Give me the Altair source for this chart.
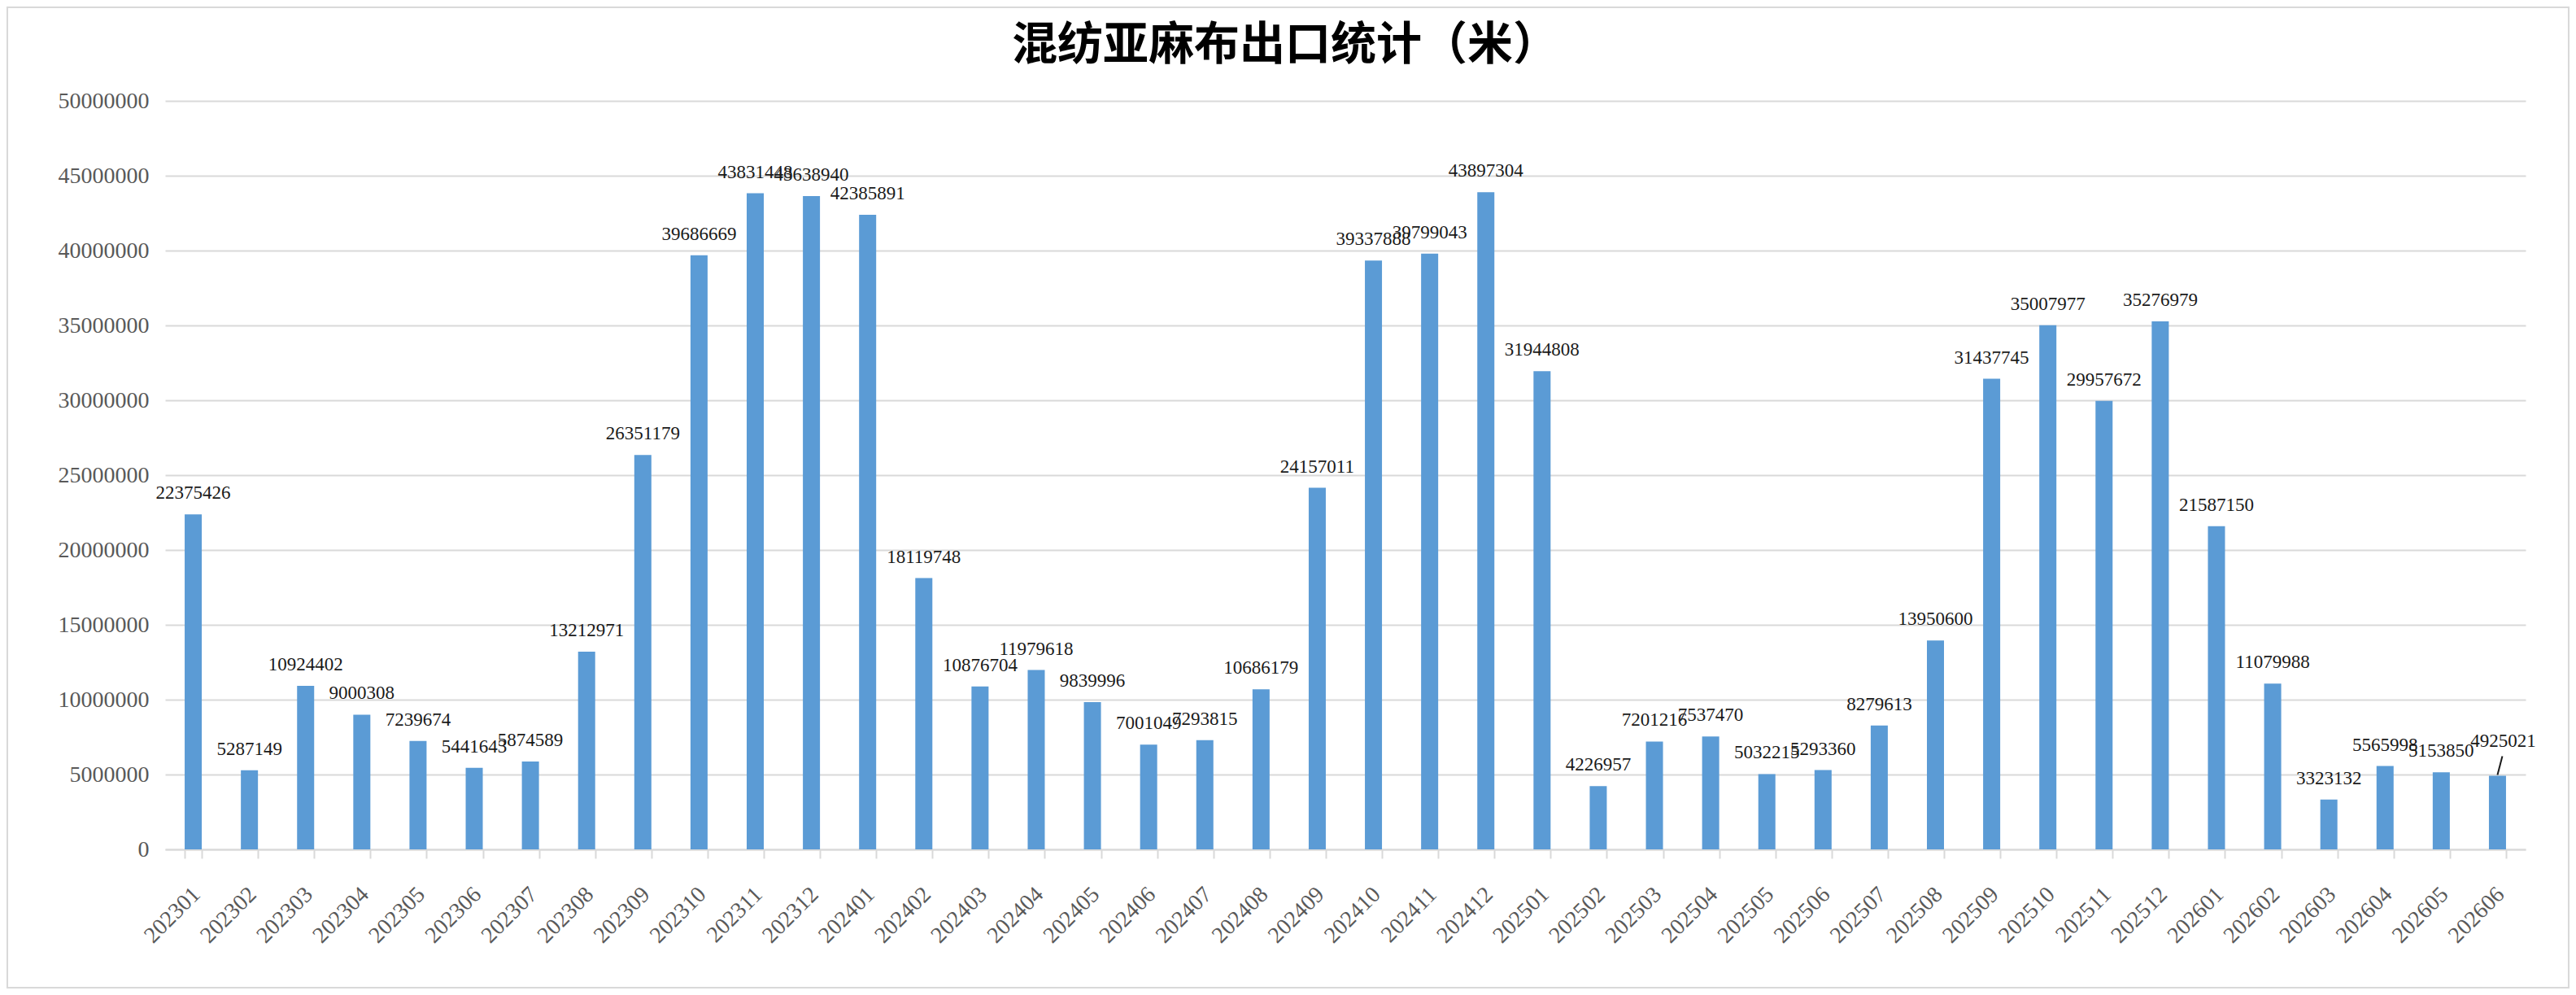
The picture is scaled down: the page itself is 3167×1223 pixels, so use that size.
import altair as alt
import pandas as pd

months = [
    "202301", "202302", "202303", "202304", "202305", "202306",
    "202307", "202308", "202309", "202310", "202311", "202312",
    "202401", "202402", "202403", "202404", "202405", "202406",
    "202407", "202408", "202409", "202410", "202411", "202412",
    "202501", "202502", "202503", "202504", "202505", "202506",
    "202507", "202508", "202509", "202510", "202511", "202512",
    "202601", "202602", "202603", "202604", "202605", "202606",
]
values = [
    22375426, 5287149, 10924402, 9000308, 7239674, 5441643,
    5874589, 13212971, 26351179, 39686669, 43831448, 43638940,
    42385891, 18119748, 10876704, 11979618, 9839996, 7001049,
    7293815, 10686179, 24157011, 39337888, 39799043, 43897304,
    31944808, 4226957, 7201216, 7537470, 5032215, 5293360,
    8279613, 13950600, 31437745, 35007977, 29957672, 35276979,
    21587150, 11079988, 3323132, 5565998, 5153850, 4925021,
]
title_text = "混纺亚麻布出口统计（米）"
leader_months = ["202606"]

df = pd.DataFrame({"month": months, "value": values})
df["label"] = df["value"].astype(str)
df["leader"] = df["month"].isin(leader_months)

W, H = 2902, 920
PAD_L, PAD_T = 195, 116
PAD_R = 3151 - PAD_L - W
PAD_B = 1207 - PAD_T - H

x_enc = alt.X(
    "month:N",
    sort=months,
    scale=alt.Scale(paddingInner=0.696, paddingOuter=0.348),
    axis=alt.Axis(
        title=None,
        labelAngle=-45,
        labelFont="Liberation Serif",
        labelFontSize=28,
        labelColor="#595959",
        labelPadding=30,
        labelOffset=-6,
        tickBand="extent",
        tickSize=11,
        tickColor="#d9d9d9",
        tickWidth=2,
        domainColor="#d9d9d9",
        domainWidth=2,
        grid=False,
    ),
)
y_enc = alt.Y(
    "value:Q",
    scale=alt.Scale(domain=[0, 50000000], nice=False),
    axis=alt.Axis(
        title=None,
        values=[0, 5000000, 10000000, 15000000, 20000000, 25000000,
                30000000, 35000000, 40000000, 45000000, 50000000],
        format="d",
        labelFont="Liberation Serif",
        labelFontSize=28,
        labelColor="#595959",
        labelPadding=20,
        ticks=False,
        domain=False,
        grid=True,
        gridColor="#d9d9d9",
        gridWidth=2,
    ),
)

base = alt.Chart(df)

bars = base.mark_bar(color="#5b9bd5").encode(x=x_enc, y=y_enc)

labels = base.transform_filter("!datum.leader").mark_text(
    font="Liberation Serif", fontSize=23, color="#1a1a1a",
    align="center", baseline="alphabetic", dy=-19,
).encode(x=alt.X("month:N", sort=months), y="value:Q", text="label:N")

leader_labels = base.transform_filter("datum.leader").mark_text(
    font="Liberation Serif", fontSize=23, color="#1a1a1a",
    align="center", baseline="alphabetic", dx=7, dy=-35,
).encode(x=alt.X("month:N", sort=months), y="value:Q", text="label:N")

leader_lines = base.transform_filter("datum.leader").mark_rule(
    color="#1a1a1a", strokeWidth=2,
    xOffset=0, yOffset=-1, x2Offset=6, y2Offset=-24,
).encode(
    x=alt.X("month:N", sort=months),
    x2=alt.X2("month"),
    y="value:Q",
    y2=alt.Y2("value"),
)

title_df = pd.DataFrame({"t": [title_text]})
title = alt.Chart(title_df).mark_text(
    font="Noto Sans CJK SC", fontSize=56, fontWeight="bold", color="#000000",
    align="center", baseline="middle",
).encode(x=alt.value(1580 - 203), y=alt.value(56 - 124), text="t:N")

frame_df = pd.DataFrame({"f": [1]})
frame = alt.Chart(frame_df).mark_rect(
    fill=None, stroke="#d9d9d9", strokeWidth=2,
).encode(
    x=alt.value(-PAD_L + 1), x2=alt.value(W + PAD_R - 1),
    y=alt.value(-PAD_T + 1), y2=alt.value(H + PAD_B - 1),
)

chart = alt.layer(frame, bars, labels, leader_labels, leader_lines, title).properties(
    width=W, height=H,
    autosize=alt.AutoSizeParams(type="none"),
    padding={"left": PAD_L, "top": PAD_T, "right": PAD_R, "bottom": PAD_B},
    background="white",
).configure_view(stroke=None)

chart.save("out.html", embed_options={"renderer": "svg", "actions": False})
